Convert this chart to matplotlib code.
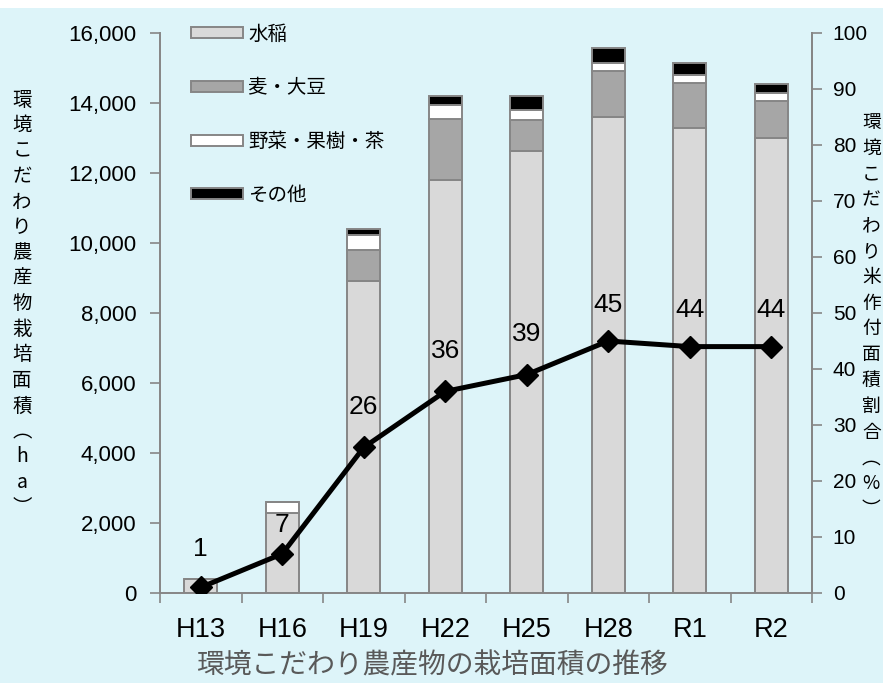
import matplotlib
matplotlib.use("Agg")
import matplotlib.pyplot as plt
from matplotlib.patches import Rectangle
import numpy as np

plt.rcParams['font.family'] = ['Noto Sans CJK JP', 'DejaVu Sans']

categories = ["H13", "H16", "H19", "H22", "H25", "H28", "R1", "R2"]
rice = [400, 2300, 8920, 11800, 12630, 13590, 13300, 13000]
wheat_soy = [0, 0, 880, 1730, 890, 1320, 1270, 1060]
veg_fruit_tea = [0, 300, 430, 410, 290, 240, 220, 230]
other = [0, 0, 170, 270, 390, 430, 360, 240]
rice_share = [1, 7, 26, 36, 39, 45, 44, 44]

series_names = ["水稲", "麦・大豆", "野菜・果樹・茶", "その他"]
series_colors = ["#D9D9D9", "#A6A6A6", "#FFFFFF", "#000000"]
label_offsets = [28, 21, 29, 29, 29, 26, 26, 26]  # points above marker

W, H = 883, 683
bg = "#DDF4F9"
fig = plt.figure(figsize=(W / 100, H / 100), dpi=100, facecolor=bg)
fig.patches.append(Rectangle((0, 1 - 8 / H), 1, 8 / H, transform=fig.transFigure,
                             facecolor="white", edgecolor="none", zorder=-1))

ax = fig.add_axes([160 / W, 1 - 593 / H, (812 - 160) / W, (593 - 33) / H])
ax.set_facecolor(bg)
x = np.arange(len(categories))
bottom = np.zeros(len(categories))
handles = []
for vals, name, col in zip([rice, wheat_soy, veg_fruit_tea, other], series_names, series_colors):
    b = ax.bar(x, vals, width=0.41, bottom=bottom, color=col, edgecolor="#868686",
               linewidth=1.4, label=name, zorder=2)
    handles.append(b)
    bottom += np.array(vals)

ax.set_xlim(-0.5, len(categories) - 0.5)
ax.set_ylim(0, 16000)
ax.set_yticks(np.arange(0, 16001, 2000))
ax.set_yticklabels([f"{v:,}" for v in range(0, 16001, 2000)], fontsize=16, family="Liberation Sans")
ax.set_xticks(np.arange(-0.5, len(categories), 1))
ax.set_xticklabels([])
ax.set_xticks(x, minor=True)
ax.set_xticklabels(categories, minor=True, fontsize=19.5, family="Liberation Sans")
ax.tick_params(axis="x", which="major", length=7, color="#868686", width=1.2, direction="out")
ax.tick_params(axis="x", which="minor", length=0, pad=17)
ax.tick_params(axis="y", length=7, color="#868686", width=1.2, pad=10)
ax.spines["top"].set_visible(False)
for s in ["left", "bottom", "right"]:
    ax.spines[s].set_color("#868686")
    ax.spines[s].set_linewidth(1.4)

ax2 = ax.twinx()
ax2.set_ylim(0, 100)
ax2.set_yticks(np.arange(0, 101, 10))
ax2.set_yticklabels([str(v) for v in range(0, 101, 10)], fontsize=15, family="Liberation Sans")
ax2.tick_params(axis="y", length=7, color="#868686", width=1.2, pad=8)
for s in ["top", "left", "bottom"]:
    ax2.spines[s].set_visible(False)
ax2.spines["right"].set_color("#868686")
ax2.spines["right"].set_linewidth(1.4)
ax2.plot(x, rice_share, color="black", linewidth=3.6, marker="D", markersize=11,
         markerfacecolor="black", markeredgecolor="black", zorder=5)
for xi, v, off in zip(x, rice_share, label_offsets):
    ax2.annotate(str(v), (xi, v), xytext=(0, off), textcoords="offset points",
                 ha="center", va="center", fontsize=19, family="Liberation Sans")

leg = ax.legend(handles=handles, loc="upper left",
                bbox_to_anchor=(181 / W, 1 - 14 / H), bbox_transform=fig.transFigure,
                frameon=False, fontsize=14, handlelength=2.7, handleheight=0.5,
                labelspacing=1.68, handletextpad=0.25, borderpad=0)

left_label = "環境こだわり農産物栽培面積︵ha︶"
fig.text(22 / W, 1 - 304 / H, "\n".join(left_label), ha="center", va="center",
         fontsize=14, linespacing=1.28)
right_label = "環境こだわり米作付面積割合︵%︶"
fig.text(862 / W, 1 - 316 / H, "\n".join(right_label), ha="left", va="center",
         fontsize=13.5, linespacing=1.3)

fig.text(432 / W, 1 - 665 / H, "環境こだわり農産物の栽培面積の推移", ha="center", va="center",
         fontsize=20, color="#595959")

fig.savefig("out.png", dpi=100, facecolor=bg)
